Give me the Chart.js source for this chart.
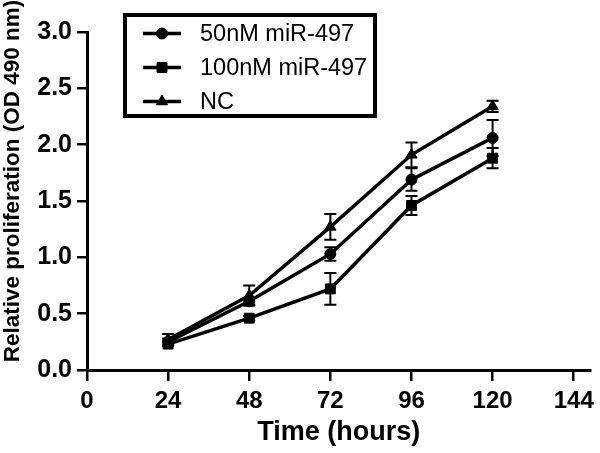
<!DOCTYPE html>
<html>
<head>
<meta charset="utf-8">
<script src="https://cdn.jsdelivr.net/npm/chart.js@4/dist/chart.umd.min.js"></script>
<style>
  html, body { margin: 0; padding: 0; background: #fff; }
  #wrap { width: 600px; height: 453px; position: relative; }
</style>
</head>
<body>
<div id="wrap"><canvas id="c" width="600" height="453"></canvas></div>
<script>
// ---- Data ----
const timePoints = [24, 48, 72, 96, 120];
const seriesLabels = ['50nM miR-497', '100nM miR-497', 'NC'];
const mir50 = [0.25, 0.61, 1.03, 1.69, 2.06];
const mir50Err = [0.03, 0.03, 0.06, 0.10, 0.16];
const mir100 = [0.23, 0.46, 0.72, 1.46, 1.88];
const mir100Err = [0.02, 0.02, 0.14, 0.085, 0.09];
const nc = [0.27, 0.66, 1.27, 1.91, 2.34];
const ncErr = [0.05, 0.09, 0.115, 0.11, 0.05];
const xTicks = [0, 24, 48, 72, 96, 120, 144];
const yTicks = [0, 0.5, 1.0, 1.5, 2.0, 2.5, 3.0];
const xTitle = 'Time (hours)';
const yTitle = 'Relative proliferation (OD 490 nm)';

const FONT = '"Liberation Sans", Arial, Helvetica, sans-serif';

function toPoints(vals) { return timePoints.map((t, i) => ({ x: t, y: vals[i] })); }

const seriesValues = [mir50, mir100, nc];
const seriesErrors = [mir50Err, mir100Err, ncErr];
const styles = [
  { pointStyle: 'circle', radius: 5.5 },
  { pointStyle: 'rect', radius: 7 },
  { pointStyle: 'triangle', radius: 6.5 }
];

const datasets = seriesValues.map((vals, i) => ({
  label: seriesLabels[i],
  data: toPoints(vals),
  errors: seriesErrors[i],
  borderColor: '#000',
  backgroundColor: '#000',
  borderWidth: 3.5,
  pointStyle: styles[i].pointStyle,
  pointRadius: styles[i].radius,
  pointBackgroundColor: '#000',
  pointBorderColor: '#000',
  pointBorderWidth: 1,
  tension: 0,
  clip: false
}));

// Error bars drawn using the chart's own scales
const errorBars = {
  id: 'errorBars',
  beforeDatasetsDraw(chart) {
    const ctx = chart.ctx;
    const ys = chart.scales.y;
    ctx.save();
    ctx.strokeStyle = '#000';
    ctx.lineWidth = 2;
    chart.data.datasets.forEach((ds, di) => {
      const meta = chart.getDatasetMeta(di);
      meta.data.forEach((pt, i) => {
        const v = ds.data[i].y, e = ds.errors[i];
        const x = pt.x;
        const yTop = ys.getPixelForValue(v + e);
        const yBot = ys.getPixelForValue(v - e);
        ctx.beginPath();
        ctx.moveTo(x, yTop); ctx.lineTo(x, yBot);
        ctx.moveTo(x - 6, yTop); ctx.lineTo(x + 6, yTop);
        ctx.moveTo(x - 6, yBot); ctx.lineTo(x + 6, yBot);
        ctx.stroke();
      });
    });
    ctx.restore();
  }
};

function drawMarker(ctx, style, r, x, y) {
  if (window.Chart && Chart.helpers && Chart.helpers.drawPoint) {
    Chart.helpers.drawPoint(ctx, { pointStyle: style, radius: r, borderWidth: 1, rotation: 0 }, x, y);
    return;
  }
  ctx.beginPath();
  if (style === 'circle') ctx.arc(x, y, r, 0, Math.PI * 2);
  else if (style === 'rect') { const s = r * Math.SQRT1_2; ctx.rect(x - s, y - s, 2 * s, 2 * s); }
  else { ctx.moveTo(x, y - r); ctx.lineTo(x + r * 0.866, y + r * 0.5); ctx.lineTo(x - r * 0.866, y + r * 0.5); ctx.closePath(); }
  ctx.fill(); ctx.stroke();
}

const boxLegend = {
  id: 'boxLegend',
  afterDraw(chart) {
    const ctx = chart.ctx;
    ctx.save();
    ctx.fillStyle = '#fff';
    ctx.fillRect(125, 15, 250, 101);
    ctx.strokeStyle = '#000';
    ctx.lineWidth = 4;
    ctx.strokeRect(125, 15, 250, 101);
    chart.data.datasets.forEach((ds, i) => {
      const y = 33.5 + i * 34;
      ctx.strokeStyle = '#000';
      ctx.lineWidth = 3.5;
      ctx.beginPath(); ctx.moveTo(143, y); ctx.lineTo(181, y); ctx.stroke();
      ctx.fillStyle = '#000';
      ctx.lineWidth = 1;
      drawMarker(ctx, ds.pointStyle, ds.pointRadius, 162, y);
      ctx.fillStyle = '#000';
      ctx.font = '23.5px ' + FONT;
      ctx.textAlign = 'left';
      ctx.textBaseline = 'middle';
      ctx.fillText(ds.label, 200, y + 1);
    });
    // rotated y-axis title
    ctx.save();
    ctx.translate(13, 181);
    ctx.rotate(-Math.PI / 2);
    ctx.font = 'bold 22.5px ' + FONT;
    ctx.fillStyle = '#000';
    ctx.textAlign = 'center';
    ctx.textBaseline = 'middle';
    ctx.fillText(yTitle, 0, 0);
    ctx.restore();
    ctx.restore();
  }
};

new Chart(document.getElementById('c'), {
  type: 'line',
  data: { datasets },
  plugins: [errorBars, boxLegend],
  options: {
    responsive: false,
    animation: false,
    devicePixelRatio: 1,
    layout: { padding: { top: 32, right: 7, bottom: 0, left: 0 } },
    plugins: { legend: { display: false }, tooltip: { enabled: false } },
    scales: {
      x: {
        type: 'linear',
        min: 0,
        max: 149,
        afterBuildTicks(scale) { scale.ticks = xTicks.map(v => ({ value: v })); },
        afterFit(scale) { scale.height = 83; },
        border: { display: true, color: '#000', width: 3 },
        grid: { display: true, drawOnChartArea: false, drawTicks: true, tickLength: 11, color: '#000', lineWidth: 2.5 },
        ticks: { color: '#000', padding: 6, maxRotation: 0, autoSkip: false, font: { family: FONT, size: 24, weight: 'bold' } },
        title: { display: true, text: xTitle, color: '#000', padding: { top: 0, bottom: 4 }, font: { family: FONT, size: 27, weight: 'bold' } }
      },
      y: {
        min: 0,
        max: 3,
        afterBuildTicks(scale) { scale.ticks = yTicks.map(v => ({ value: v })); },
        afterFit(scale) { scale.width = 87; },
        border: { display: true, color: '#000', width: 3 },
        grid: { display: true, drawOnChartArea: false, drawTicks: true, tickLength: 10, color: '#000', lineWidth: 2.5 },
        ticks: { color: '#000', padding: 5, autoSkip: false, font: { family: FONT, size: 25, weight: 'bold' },
                 callback: v => Number(v).toFixed(1) }
      }
    }
  }
});
</script>
</body>
</html>
